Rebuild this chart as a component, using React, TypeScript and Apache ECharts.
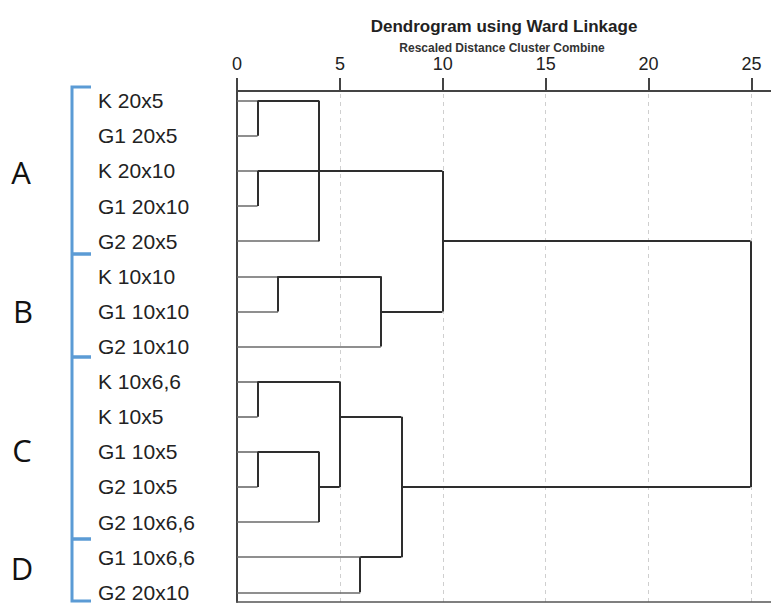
import React, { useEffect, useRef } from "react";
import * as echarts from "echarts";

// ---- data ----
const leafLabels = [
  "K 20x5", "G1 20x5", "K 20x10", "G1 20x10", "G2 20x5",
  "K 10x10", "G1 10x10", "G2 10x10",
  "K 10x6,6", "K 10x5", "G1 10x5", "G2 10x5", "G2 10x6,6",
  "G1 10x6,6", "G2 20x10",
];
// merges (node ids: leaves 0..14, merges 15..27 in this order)
const mergeChildren = [
  [0, 1], [2, 3], [15, 16, 4], [5, 6], [18, 7], [17, 19],
  [8, 9], [10, 11], [22, 12], [21, 23], [13, 14], [24, 25], [20, 26],
];
const mergeHeights = [1, 1, 4, 2, 7, 10, 1, 1, 4, 5, 6, 8, 25];
const mergeRows = [0, 2, 2, 5, 6, 4, 8, 10, 11, 9, 13, 11, 7];
const xTickValues = [0, 5, 10, 15, 20, 25];
const xTickMax = 25;
const xTickStep = 5;
const groupNames = ["A", "B", "C", "D"];

const titleText = "Dendrogram using Ward Linkage";
const subtitleText = "Rescaled Distance Cluster Combine";

export default function App() {
  const ref = useRef<HTMLDivElement>(null);

  useEffect(() => {
    document.body.style.margin = "0";
    if (!ref.current) return;
    const chart = echarts.init(ref.current, null, { renderer: "svg" });

    const nLeaves = leafLabels.length;
    const nodeRow = (id: number) => (id < nLeaves ? id : mergeRows[id - nLeaves]);
    const nodeHeight = (id: number) => (id < nLeaves ? 0 : mergeHeights[id - nLeaves]);

    const leafSegs: any[] = [];
    const innerSegs: any[] = [];
    mergeChildren.forEach((children, i) => {
      const h = mergeHeights[i];
      const rows = children.map(nodeRow);
      children.forEach((c) => {
        const seg = { coords: [[nodeHeight(c), nodeRow(c)], [h, nodeRow(c)]] };
        if (c < nLeaves) leafSegs.push(seg);
        else innerSegs.push(seg);
      });
      innerSegs.push({ coords: [[h, Math.min(...rows)], [h, Math.max(...rows)]] });
    });

    const bracketColor = "#5B9BD5";
    const letterPos = [
      [21, 172],
      [23, 311],
      [22, 450],
      [22, 568],
    ];
    const unit = 20.58; // px per distance unit
    const font = "Liberation Sans, Arial";
    const gridTop = 91;
    const tickLen = 13;
    const plotH = 511;
    // tick grid: starts tickLen above plot, y from 0 (bottom) to 1 (top)
    const tickFrac = tickLen / (plotH + tickLen);
    const tickSegs = xTickValues.map((v) => ({ coords: [[v, 1], [v, 1 - tickFrac]] }));

    chart.setOption({
      animation: false,
      backgroundColor: "#ffffff",
      title: [
        {
          text: titleText,
          left: 499,
          top: 13,
          textAlign: "center",
          textStyle: { fontFamily: font, fontSize: 17, fontWeight: "bold", color: "#222" },
        },
        {
          text: subtitleText,
          left: 497,
          top: 37,
          textAlign: "center",
          textStyle: { fontFamily: font, fontSize: 12, fontWeight: "bold", color: "#333" },
        },
      ],
      grid: [
        { left: 237, top: gridTop, width: unit * 26, height: plotH },
        { left: 237, top: gridTop - tickLen, width: unit * xTickMax, height: plotH + tickLen },
      ],
      xAxis: [
        {
          type: "value",
          gridIndex: 0,
          position: "top",
          min: 0,
          max: 26,
          interval: 5,
          axisLine: { show: true, onZero: false, lineStyle: { color: "#444", width: 2 } },
          axisTick: { show: false },
          axisLabel: { show: false },
          splitLine: { show: false },
        },
        {
          type: "value",
          gridIndex: 0,
          position: "bottom",
          min: 0,
          max: 26,
          axisLine: { show: true, onZero: false, lineStyle: { color: "#555", width: 1.5 } },
          axisTick: { show: false },
          axisLabel: { show: false },
          splitLine: { show: false },
        },
        {
          type: "value",
          gridIndex: 1,
          position: "top",
          min: 0,
          max: xTickMax,
          interval: xTickStep,
          axisLine: { show: false, onZero: false },
          axisTick: { show: false },
          axisLabel: {
            show: true,
            margin: 5,
            fontFamily: font,
            fontSize: 18,
            color: "#222",
          },
          splitLine: { show: true, lineStyle: { color: "#cfcfcf", width: 1, type: [4, 4] } },
        },
      ],
      yAxis: [
        {
          type: "value",
          gridIndex: 0,
          inverse: true,
          min: -0.276,
          max: 14.276,
          axisLine: { show: true, onZero: false, lineStyle: { color: "#444", width: 2 } },
          axisTick: { show: false },
          splitLine: { show: false },
          axisLabel: {
            show: true,
            customValues: leafLabels.map((_, i) => i),
            formatter: (v: number) => leafLabels[Math.round(v)] ?? "",
            align: "left",
            margin: 139,
            fontFamily: font,
            fontSize: 21,
            color: "#222",
          },
        },
        {
          type: "value",
          gridIndex: 1,
          show: false,
          min: 0,
          max: 1,
          splitLine: { show: false },
        },
      ],
      series: [
        {
          type: "lines",
          coordinateSystem: "cartesian2d",
          xAxisIndex: 2,
          yAxisIndex: 1,
          silent: true,
          lineStyle: { color: "#444", width: 2, opacity: 1 },
          data: tickSegs,
        },
        {
          type: "lines",
          coordinateSystem: "cartesian2d",
          xAxisIndex: 0,
          yAxisIndex: 0,
          silent: true,
          lineStyle: { color: "#6a6a6a", width: 1.6, opacity: 1 },
          data: leafSegs,
        },
        {
          type: "lines",
          coordinateSystem: "cartesian2d",
          xAxisIndex: 0,
          yAxisIndex: 0,
          silent: true,
          lineStyle: { color: "#2e2e2e", width: 2, opacity: 1 },
          data: innerSegs,
        },
      ],
      graphic: [
        {
          type: "polyline",
          shape: { points: [[91, 87], [72, 87], [72, 601], [91, 601]] },
          style: { stroke: bracketColor, lineWidth: 3, fill: null },
        },
        ...[254, 357, 539].map((y) => ({
          type: "line",
          shape: { x1: 72, y1: y, x2: 91, y2: y },
          style: { stroke: bracketColor, lineWidth: 3.5 },
        })),
        ...groupNames.map((g, i) => ({
          type: "text",
          x: letterPos[i][0],
          y: letterPos[i][1],
          style: {
            text: g,
            fontFamily: "Open Sans",
            fontSize: 31,
            fill: "#111",
            align: "center",
            verticalAlign: "middle",
          },
        })),
      ],
    });

    return () => chart.dispose();
  }, []);

  return <div ref={ref} style={{ width: 771, height: 603 }} />;
}
